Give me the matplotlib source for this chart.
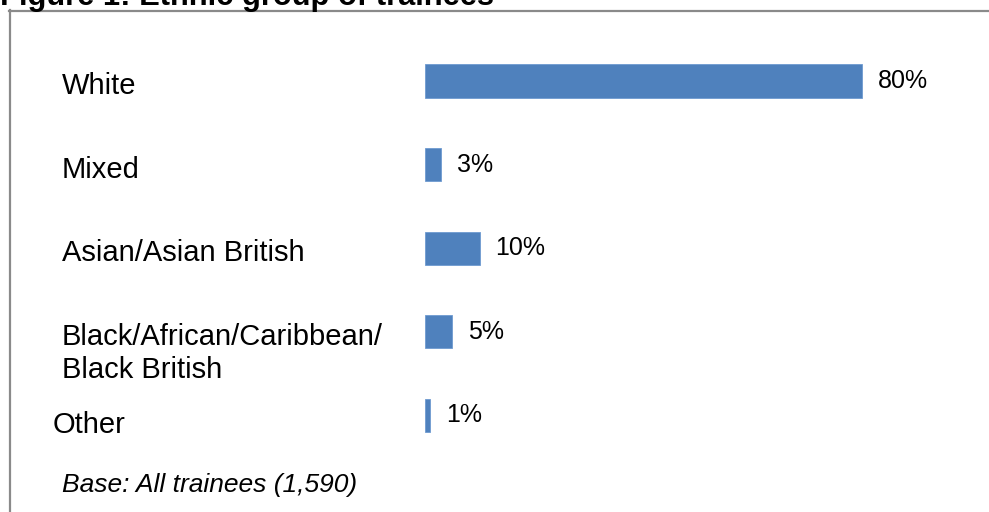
"""
Figure 1: Ethnic group of trainees - horizontal bar chart
"""
from matplotlib import pyplot as plt
from matplotlib.lines import Line2D
from matplotlib.transforms import blended_transform_factory

categories = ['White', 'Mixed', 'Asian/Asian British',
              'Black/African/Caribbean/\nBlack British', 'Other']
shares = [80, 3, 10, 5, 1]
value_labels = ['80%', '3%', '10%', '5%', '1%']

title = 'Figure 1: Ethnic group of trainees'
base_note = 'Base: All trainees (1,590)'

W, H = 989, 512
bar_color = '#4F81BD'
border_color = '#8a8a8a'


def main():
    plt.rcParams['font.family'] = ['Liberation Sans', 'DejaVu Sans']
    fig = plt.figure(figsize=(W / 100, H / 100), dpi=100)

    # frame round the chart (top and left only are visible)
    fig.add_artist(Line2D([9.5 / W, 9.5 / W], [0, 1 - 10 / H], color=border_color, lw=1.6))
    fig.add_artist(Line2D([9 / W, 1], [1 - 10.5 / H, 1 - 10.5 / H], color=border_color, lw=1.6))

    # bar area in pixels: x from 425, 5.46 px per percent; rows every ~83.6 px
    left, px_per_pct = 425, 5.46
    top, row_h = 39.2, 83.6
    ax = fig.add_axes([left / W, 1 - (top + 5 * row_h) / H, 100 * px_per_pct / W, 5 * row_h / H])
    ypos = list(range(len(categories)))
    ax.barh(ypos, shares, height=0.395, color=bar_color, edgecolor='#6f9bd1', linewidth=0.6)
    ax.set_xlim(0, 100)
    ax.set_ylim(len(categories) - 0.5, -0.5)
    ax.axis('off')

    for y, v, lab in zip(ypos, shares, value_labels):
        ax.annotate(lab, (v, y), xytext=(11.5, 0), textcoords='offset points',
                    va='center', ha='left', fontsize=18)

    # category labels, left aligned in the frame
    trans = blended_transform_factory(fig.transFigure, ax.transData)
    label_x = [62, 62, 62, 62, 53]
    label_dy = [0.06, 0.06, 0.06, 0.26, 0.12]
    for y, cat, lx, dy in zip(ypos, categories, label_x, label_dy):
        ax.text(lx / W, y + dy, cat, transform=trans, ha='left', va='center',
                fontsize=21, linespacing=1.2)

    fig.text(0, 1 - 5 / H, title, ha='left', va='baseline', fontsize=22.2, fontweight='bold')
    fig.text(62 / W, 1 - 485 / H, base_note, ha='left', va='center', fontsize=19, style='italic')

    fig.savefig('out.png', dpi=100)


if __name__ == '__main__':
    main()
